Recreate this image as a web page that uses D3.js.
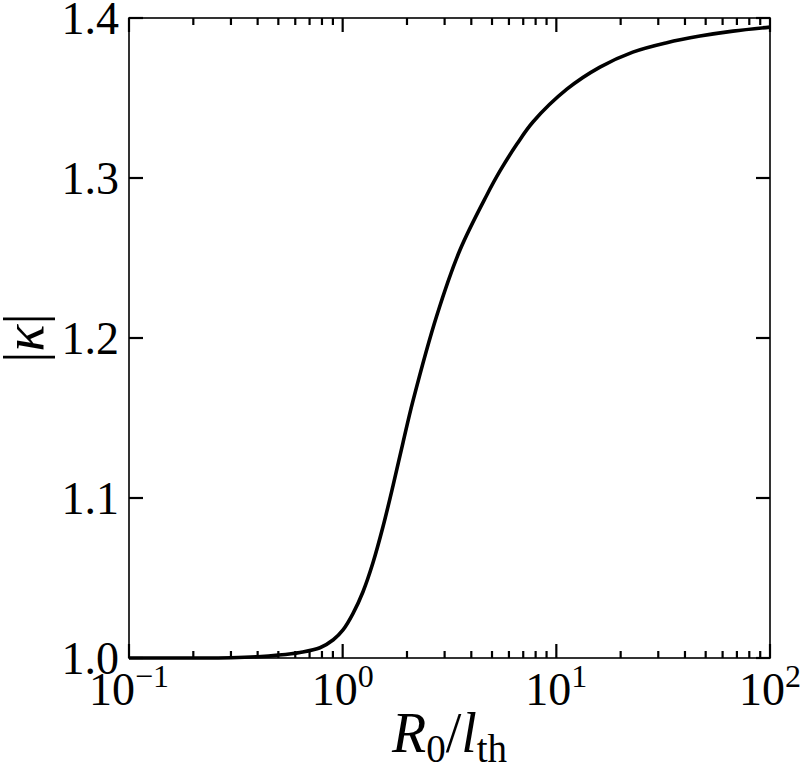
<!DOCTYPE html>
<html>
<head>
<meta charset="utf-8">
<script src="https://cdn.jsdelivr.net/npm/d3@7/dist/d3.min.js"></script>
<style>
  html, body { margin: 0; padding: 0; background: #fff; }
  svg { display: block; }
  text { font-family: "Liberation Serif", "DejaVu Serif", serif; fill: #000; }
</style>
</head>
<body>
<svg id="chart" width="800" height="769"></svg>
<script>
// ---- data ----
const ratio = [0.1, 0.2, 0.3, 0.4, 0.5, 0.631, 0.783, 0.904, 1.006, 1.117, 1.245, 1.386, 1.544, 1.720, 1.915, 2.133, 2.763, 3.54, 4.73, 5.45, 6.54, 7.77, 11.2, 16.0, 22.8, 32.9, 47.0, 67.1, 100];
const kappa = [1.0000, 1.0000, 1.0002, 1.0008, 1.0018, 1.0035, 1.0064, 1.0114, 1.0177, 1.0277, 1.0414, 1.0595, 1.0820, 1.1076, 1.1345, 1.1607, 1.2144, 1.2550, 1.2894, 1.3044, 1.3212, 1.3350, 1.3555, 1.3693, 1.3787, 1.3846, 1.3887, 1.3918, 1.3943];
const xMajorTicks = [0.1, 1, 10, 100];
const xTickExponents = ["\u22121", "0", "1", "2"];
const yTicks = [1.0, 1.1, 1.2, 1.3, 1.4];
const yTickLabels = ["1.0", "1.1", "1.2", "1.3", "1.4"];

const W = 800, H = 769;
const m = { left: 129, right: 30, top: 18, bottom: 111 };
const svg = d3.select("#chart");

const x = d3.scaleLog().domain([0.1, 100]).range([m.left, W - m.right]);
const y = d3.scaleLinear().domain([1.0, 1.4]).range([H - m.bottom, m.top]);

const x0 = x.range()[0], x1 = x.range()[1];
const y0 = y.range()[0], y1 = y.range()[1];

// minor ticks
const xMinor = [];
for (let i = 0; i < xMajorTicks.length - 1; i++) {
  for (let k = 2; k <= 9; k++) xMinor.push(xMajorTicks[i] * k);
}

const majLen = 14, minLen = 7;
const tickG = svg.append("g").attr("stroke", "#000").attr("stroke-width", 2.2);

// x ticks bottom & top (inward)
xMajorTicks.forEach(v => {
  tickG.append("line").attr("x1", x(v)).attr("x2", x(v)).attr("y1", y0).attr("y2", y0 - majLen);
  tickG.append("line").attr("x1", x(v)).attr("x2", x(v)).attr("y1", y1).attr("y2", y1 + majLen);
});
xMinor.forEach(v => {
  tickG.append("line").attr("x1", x(v)).attr("x2", x(v)).attr("y1", y0).attr("y2", y0 - minLen);
  tickG.append("line").attr("x1", x(v)).attr("x2", x(v)).attr("y1", y1).attr("y2", y1 + minLen);
});
// y ticks left & right (inward)
yTicks.forEach(v => {
  tickG.append("line").attr("x1", x0).attr("x2", x0 + majLen).attr("y1", y(v)).attr("y2", y(v));
  tickG.append("line").attr("x1", x1).attr("x2", x1 - majLen).attr("y1", y(v)).attr("y2", y(v));
});

// frame
svg.append("rect")
  .attr("x", x0).attr("y", y1)
  .attr("width", x1 - x0).attr("height", y0 - y1)
  .attr("fill", "none").attr("stroke", "#000").attr("stroke-width", 1.6);

// curve
const pts = ratio.map((r, i) => [r, kappa[i]]);
const line = d3.line()
  .x(d => x(d[0])).y(d => y(d[1]))
  .curve(d3.curveCatmullRom.alpha(0.5));
svg.append("path")
  .datum(pts)
  .attr("d", line)
  .attr("fill", "none")
  .attr("stroke", "#000")
  .attr("stroke-width", 3.6)
  .attr("stroke-linejoin", "round");

// y tick labels
yTicks.forEach((v, i) => {
  svg.append("text")
    .attr("x", x0 - 10)
    .attr("y", y(v) + 16)
    .attr("text-anchor", "end")
    .attr("font-size", 46)
    .text(yTickLabels[i]);
});

// x tick labels: 10^e
xMajorTicks.forEach((v, i) => {
  const t = svg.append("text")
    .attr("x", x(v))
    .attr("y", y0 + 47)
    .attr("text-anchor", "middle")
    .attr("font-size", 46);
  t.append("tspan").text("10");
  t.append("tspan").attr("dy", -18).attr("font-size", 32).text(xTickExponents[i]);
});

// x axis label  R_0 / l_th
const xl = svg.append("text")
  .attr("x", (x0 + x1) / 2)
  .attr("y", 752)
  .attr("text-anchor", "middle")
  .attr("font-size", 56);
xl.append("tspan").attr("font-style", "italic").text("R");
xl.append("tspan").attr("font-size", 39).attr("dy", 10).text("0");
xl.append("tspan").attr("dy", -10).text("/");
xl.append("tspan").attr("font-style", "italic").text("l");
xl.append("tspan").attr("font-size", 39).attr("dy", 10).text("th");

// y axis label |κ|
const yl = svg.append("text")
  .attr("transform", `translate(43, ${(y0 + y1) / 2}) rotate(-90)`)
  .attr("text-anchor", "middle")
  .attr("font-size", 56);
yl.append("tspan").text("|");
yl.append("tspan").attr("font-style", "italic").text("\u03BA");
yl.append("tspan").text("|");
</script>
</body>
</html>
